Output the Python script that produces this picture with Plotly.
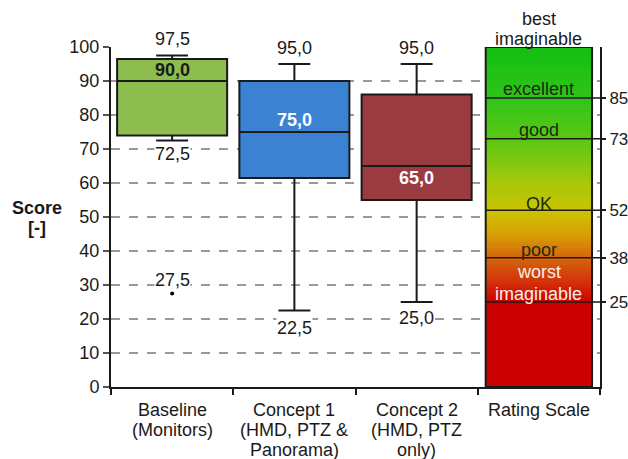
import plotly.graph_objects as go

# ---- data ----
category_lines = [["Baseline", "(Monitors)"],
                  ["Concept 1", "(HMD, PTZ &", "Panorama)"],
                  ["Concept 2", "(HMD, PTZ", "only)"],
                  ["Rating Scale"]]
q1 = [74.0, 61.5, 55.0]
median = [90.0, 75.0, 65.0]
q3 = [96.5, 90.0, 86.0]
lower_whisker = [72.5, 22.5, 25.0]
upper_whisker = [97.5, 95.0, 95.0]
outlier_pos = [0]
outlier_val = [27.5]
scale_thresholds = [85, 73, 52, 38, 25]
scale_labels = ["excellent", "good", "OK", "poor"]
y_ticks = list(range(0, 101, 10))

# ---- style ----
box_colors = ["#8cbd4e", "#3c82d2", "#9a3b3f"]
median_label_colors = ["#1a1a1a", "white", "white"]
FONT = "Liberation Sans, Arial, sans-serif"
FS = 18
INK = "#1a1a1a"

fig = go.Figure()

# rating scale gradient (heatmap with bin edges)
y_edges = list(range(0, 101))
z = [[(y_edges[i] + y_edges[i + 1]) / 2] for i in range(100)]
colorscale = [
    [0.0, "#cc0000"], [0.25, "#cc0000"], [0.30, "#d42a0a"], [0.38, "#d4660c"],
    [0.45, "#d8a004"], [0.52, "#cbc400"], [0.60, "#a6c80a"], [0.73, "#5ac814"],
    [0.85, "#30c418"], [1.0, "#12c012"],
]
fig.add_trace(go.Heatmap(x=[2.565, 3.435], y=y_edges, z=z, zmin=0, zmax=100,
                         colorscale=colorscale, showscale=False, hoverinfo="skip"))

for i in range(3):
    fig.add_trace(go.Box(
        x=[i], q1=[q1[i]], median=[median[i]], q3=[q3[i]],
        lowerfence=[lower_whisker[i]], upperfence=[upper_whisker[i]],
        width=0.9, whiskerwidth=0.29, fillcolor=box_colors[i],
        line=dict(color=INK, width=2), boxpoints=False, showlegend=False))

fig.add_trace(go.Scatter(x=outlier_pos, y=outlier_val, mode="markers",
                         marker=dict(color="black", size=4), showlegend=False))
fig.add_trace(go.Scatter(x=[3.4], y=[50], yaxis="y2", mode="markers",
                         marker=dict(opacity=0), showlegend=False, hoverinfo="skip"))

shapes = [dict(type="rect", x0=2.565, x1=3.435, y0=0, y1=100, xref="x", yref="y",
               line=dict(color=INK, width=2), layer="above")]
for t in scale_thresholds:
    shapes.append(dict(type="line", x0=2.565, x1=3.5, y0=t, y1=t, xref="x", yref="y",
                       line=dict(color=INK, width=1.5), layer="above"))

ann = []
def txt(x, y, s, anchor, shift, bold=False, color=INK, bg=None, yref="y", xref="x"):
    d = dict(x=x, y=y, xref=xref, yref=yref, text=f"<b>{s}</b>" if bold else s,
             showarrow=False, xanchor="center", yanchor=anchor, yshift=shift,
             font=dict(family=FONT, size=FS, color=color))
    if bg:
        d["bgcolor"] = bg
        d["borderpad"] = 0
    ann.append(d)

def fmt(v):
    return f"{v:.1f}".replace(".", ",")

upper_shift = [6, 5, 5]
lower_shift = [-2, -6, -5]
for i in range(3):
    txt(i, upper_whisker[i], fmt(upper_whisker[i]), "bottom", upper_shift[i], bg="white")
    txt(i, lower_whisker[i], fmt(lower_whisker[i]), "top", lower_shift[i], bg="white")
txt(0, median[0], fmt(median[0]), "bottom", -1, True, median_label_colors[0])
txt(1, median[1], fmt(median[1]), "bottom", 0, True, median_label_colors[1])
txt(2, median[2], fmt(median[2]), "top", 0, True, median_label_colors[2])
txt(outlier_pos[0], outlier_val[0], fmt(outlier_val[0]), "bottom", 3, bg="white")

label_offsets = [2.6, 2.6, 1.8, 2.3]
for s, t, o in zip(scale_labels, scale_thresholds[:4], label_offsets):
    txt(3, t + o, s, "middle", 0, color="#1c2a10")
txt(3, scale_thresholds[4] + 8.8, "worst", "middle", 0, color="#f6f0ea")
txt(3, scale_thresholds[4] + 2.4, "imaginable", "middle", 0, color="#f6f0ea")
txt(3, 1.083, "best", "middle", 0, yref="paper")
txt(3, 1.025, "imaginable", "middle", 0, yref="paper")

for i, lines in enumerate(category_lines):
    for j, line in enumerate(lines):
        txt(i, 0, line, "middle", -23 - 20 * j, yref="paper")

txt(-0.151, 0.526, "Score", "middle", 0, bold=True, xref="paper", yref="paper")
txt(-0.151, 0.468, "[-]", "middle", 0, bold=True, xref="paper", yref="paper")

fig.update_layout(
    width=628, height=459, margin=dict(l=111, r=28, t=47, b=72, autoexpand=False),
    paper_bgcolor="white", plot_bgcolor="white", showlegend=False,
    shapes=shapes, annotations=ann,
    xaxis=dict(range=[-0.5, 3.5], tickvals=[-0.5, 0.5, 1.5, 2.5, 3.5],
               ticktext=["", "", "", "", ""], ticks="outside", ticklen=6,
               tickwidth=2, tickcolor=INK, showline=True, linecolor=INK,
               linewidth=2, showgrid=False, zeroline=False, automargin=False),
    yaxis=dict(range=[0, 100], tickvals=y_ticks, ticks="outside", ticklen=6,
               tickwidth=1.5, tickcolor="#555", showline=True, linecolor=INK,
               linewidth=2, showgrid=True, gridcolor="#9a9a9a", griddash="dash",
               gridwidth=1.5, zeroline=False, automargin=False,
               tickfont=dict(family=FONT, size=FS, color=INK)),
    yaxis2=dict(range=[0, 100], overlaying="y", side="right", tickvals=scale_thresholds,
                ticks="outside", ticklen=4, tickwidth=1.5, tickcolor=INK,
                showline=True, linecolor=INK, linewidth=2, showgrid=False,
                zeroline=False, ticklabelstandoff=0, automargin=False,
                tickfont=dict(family=FONT, size=17, color=INK)),
)

fig.write_html("out.html", config={"displayModeBar": False},
               post_script="document.body.style.margin='0';")
